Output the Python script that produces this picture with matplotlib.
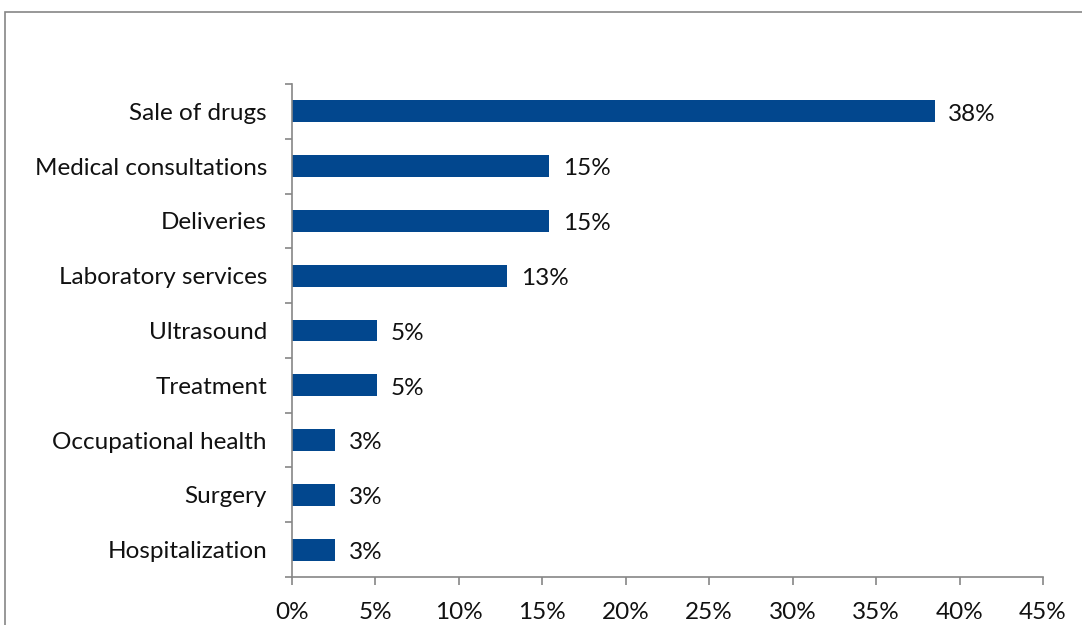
import matplotlib

matplotlib.use("Agg")
import matplotlib.pyplot as plt
from matplotlib.patches import Rectangle

categories = [
    "Sale of drugs",
    "Medical consultations",
    "Deliveries",
    "Laboratory services",
    "Ultrasound",
    "Treatment",
    "Occupational health",
    "Surgery",
    "Hospitalization",
]
shares = [38.5, 15.4, 15.4, 12.9, 5.1, 5.1, 2.6, 2.6, 2.6]
value_labels = ["38%", "15%", "15%", "13%", "5%", "5%", "3%", "3%", "3%"]
x_ticks = [0, 5, 10, 15, 20, 25, 30, 35, 40, 45]

BAR = "#02478e"
AXIS = "#868686"
FS = 17.5

plt.rcParams["font.family"] = ["Lato", "DejaVu Sans"]

fig = plt.figure(figsize=(10.82, 6.25), dpi=100)
fig.patch.set_facecolor("white")

# outer chart frame (cropped on right and bottom)
fig.patches.append(
    Rectangle((5 / 1082, -0.1), 1.2, 1 - 12 / 625 + 0.1, transform=fig.transFigure,
              fill=False, edgecolor=AXIS, linewidth=1.2)
)

ax = fig.add_axes([292 / 1082, 1 - 577 / 625, (1043 - 292) / 1082, (577 - 84) / 625])

ypos = list(range(len(categories)))[::-1]
ax.barh(ypos, shares, height=0.4, color=BAR)

for y, v, lab in zip(ypos, shares, value_labels):
    ax.annotate(lab, (v, y), xytext=(10, -2), textcoords="offset points",
                ha="left", va="center", fontsize=FS, color="#111111")

ax.set_xlim(0, 45)
ax.set_ylim(-0.5, len(categories) - 0.5)
ax.set_xticks(x_ticks)
ax.set_xticklabels([f"{t}%" for t in x_ticks], fontsize=FS, color="#111111")
ax.set_yticks(ypos)
ax.set_yticklabels(categories, fontsize=FS, color="#111111")
ax.set_yticks([i - 0.5 for i in range(len(categories) + 1)], minor=True)
ax.tick_params(axis="y", which="major", length=0, pad=18)
ax.tick_params(axis="y", which="minor", length=5, color=AXIS, width=1.2)
ax.tick_params(axis="x", length=6, color=AXIS, width=1.2, pad=12)

for side in ["top", "right"]:
    ax.spines[side].set_visible(False)
for side in ["left", "bottom"]:
    ax.spines[side].set_color(AXIS)
    ax.spines[side].set_linewidth(1.2)

fig.savefig("out.png", dpi=100)
